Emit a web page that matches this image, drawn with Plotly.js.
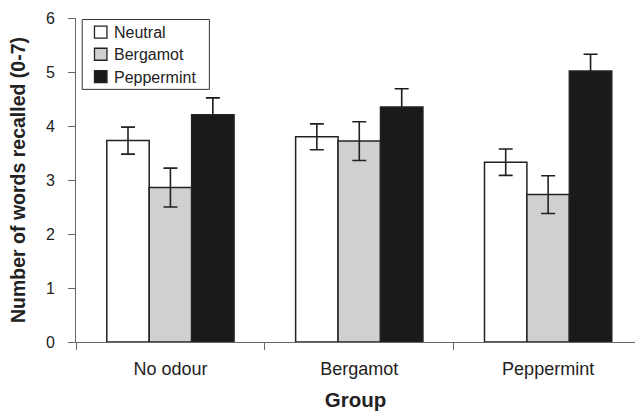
<!DOCTYPE html>
<html>
<head>
<meta charset="utf-8">
<script src="https://cdn.plot.ly/plotly-3.0.1.min.js"></script>
<style>html,body{margin:0;padding:0;background:#fff;}#chart{width:635px;height:411px;}</style>
</head>
<body>
<div id="chart"></div>
<script>
const groups = ["No odour", "Bergamot", "Peppermint"];
const seriesNames = ["Neutral", "Bergamot", "Peppermint"];
const neutralMeans = [3.73, 3.80, 3.33];
const neutralErr = [0.25, 0.24, 0.245];
const bergamotMeans = [2.86, 3.72, 2.73];
const bergamotErr = [0.36, 0.36, 0.35];
const peppermintMeans = [4.21, 4.35, 5.02];
const peppermintErr = [0.31, 0.34, 0.31];
const colors = ["#ffffff", "#cfd0cf", "#1a1a1a"];

const means = [neutralMeans, bergamotMeans, peppermintMeans];
const errs = [neutralErr, bergamotErr, peppermintErr];

const traces = seriesNames.map((name, i) => ({
  type: "bar",
  name: name,
  x: groups,
  y: means[i],
  marker: {color: colors[i], line: {color: "#222", width: 1.5}},
  error_y: {type: "data", array: errs[i], visible: true,
            color: i === 2 ? colors[2] : "#222", thickness: 1.6, width: 7}
}));

// plot area in pixels (for placing the hand-drawn legend)
const L = 75.5, W = 559.5, T = 17.5, H = 324.5;
const px = v => (v - L) / W;
const py = v => (T + H - v) / H;

const shapes = [{
  type: "rect", xref: "paper", yref: "paper",
  x0: px(81.7), x1: px(209), y0: py(89), y1: py(19),
  line: {color: "#333", width: 1}, fillcolor: "#fff", layer: "above"
}];
const annotations = [];
const rowY = [31.7, 53.8, 76.3];
seriesNames.forEach((name, i) => {
  shapes.push({
    type: "rect", xref: "paper", yref: "paper",
    x0: px(94), x1: px(106.5), y0: py(rowY[i] + 6), y1: py(rowY[i] - 6),
    line: {color: "#222", width: 1.3}, fillcolor: colors[i], layer: "above"
  });
  annotations.push({
    xref: "paper", yref: "paper", x: px(112), y: py(rowY[i] + 0.5),
    xanchor: "left", yanchor: "middle", showarrow: false,
    text: name, font: {size: 16, color: "#222"}
  });
});

const layout = {
  width: 635, height: 411,
  margin: {l: L, r: 0, t: T, b: 69, pad: 0},
  paper_bgcolor: "#fff", plot_bgcolor: "#fff",
  font: {family: "Liberation Sans, Arial, sans-serif", color: "#222"},
  barmode: "group",
  bargap: 0.326,
  bargroupgap: 0,
  showlegend: false,
  shapes: shapes,
  annotations: annotations,
  xaxis: {
    type: "category",
    range: [-0.5, 2.46],
    showline: true, linecolor: "#666", linewidth: 1,
    ticks: "outside", tickson: "boundaries", ticklen: 7, tickcolor: "#666",
    tickfont: {size: 18, color: "#222"},
    ticklabelstandoff: 10,
    showgrid: false, zeroline: false,
    title: {text: "<b>Group</b>", font: {size: 20.5, color: "#222"}, standoff: 24}
  },
  yaxis: {
    range: [0, 6], dtick: 1,
    showline: true, linecolor: "#666", linewidth: 1,
    ticks: "outside", ticklen: 7, tickcolor: "#666",
    tickfont: {size: 16, color: "#222"},
    ticklabelstandoff: 10,
    showgrid: false, zeroline: false,
    title: {text: "<b>Number of words recalled (0-7)</b>", font: {size: 19.5, color: "#222"}, standoff: 15}
  }
};

Plotly.newPlot("chart", traces, layout, {displayModeBar: false, staticPlot: true});
</script>
</body>
</html>
